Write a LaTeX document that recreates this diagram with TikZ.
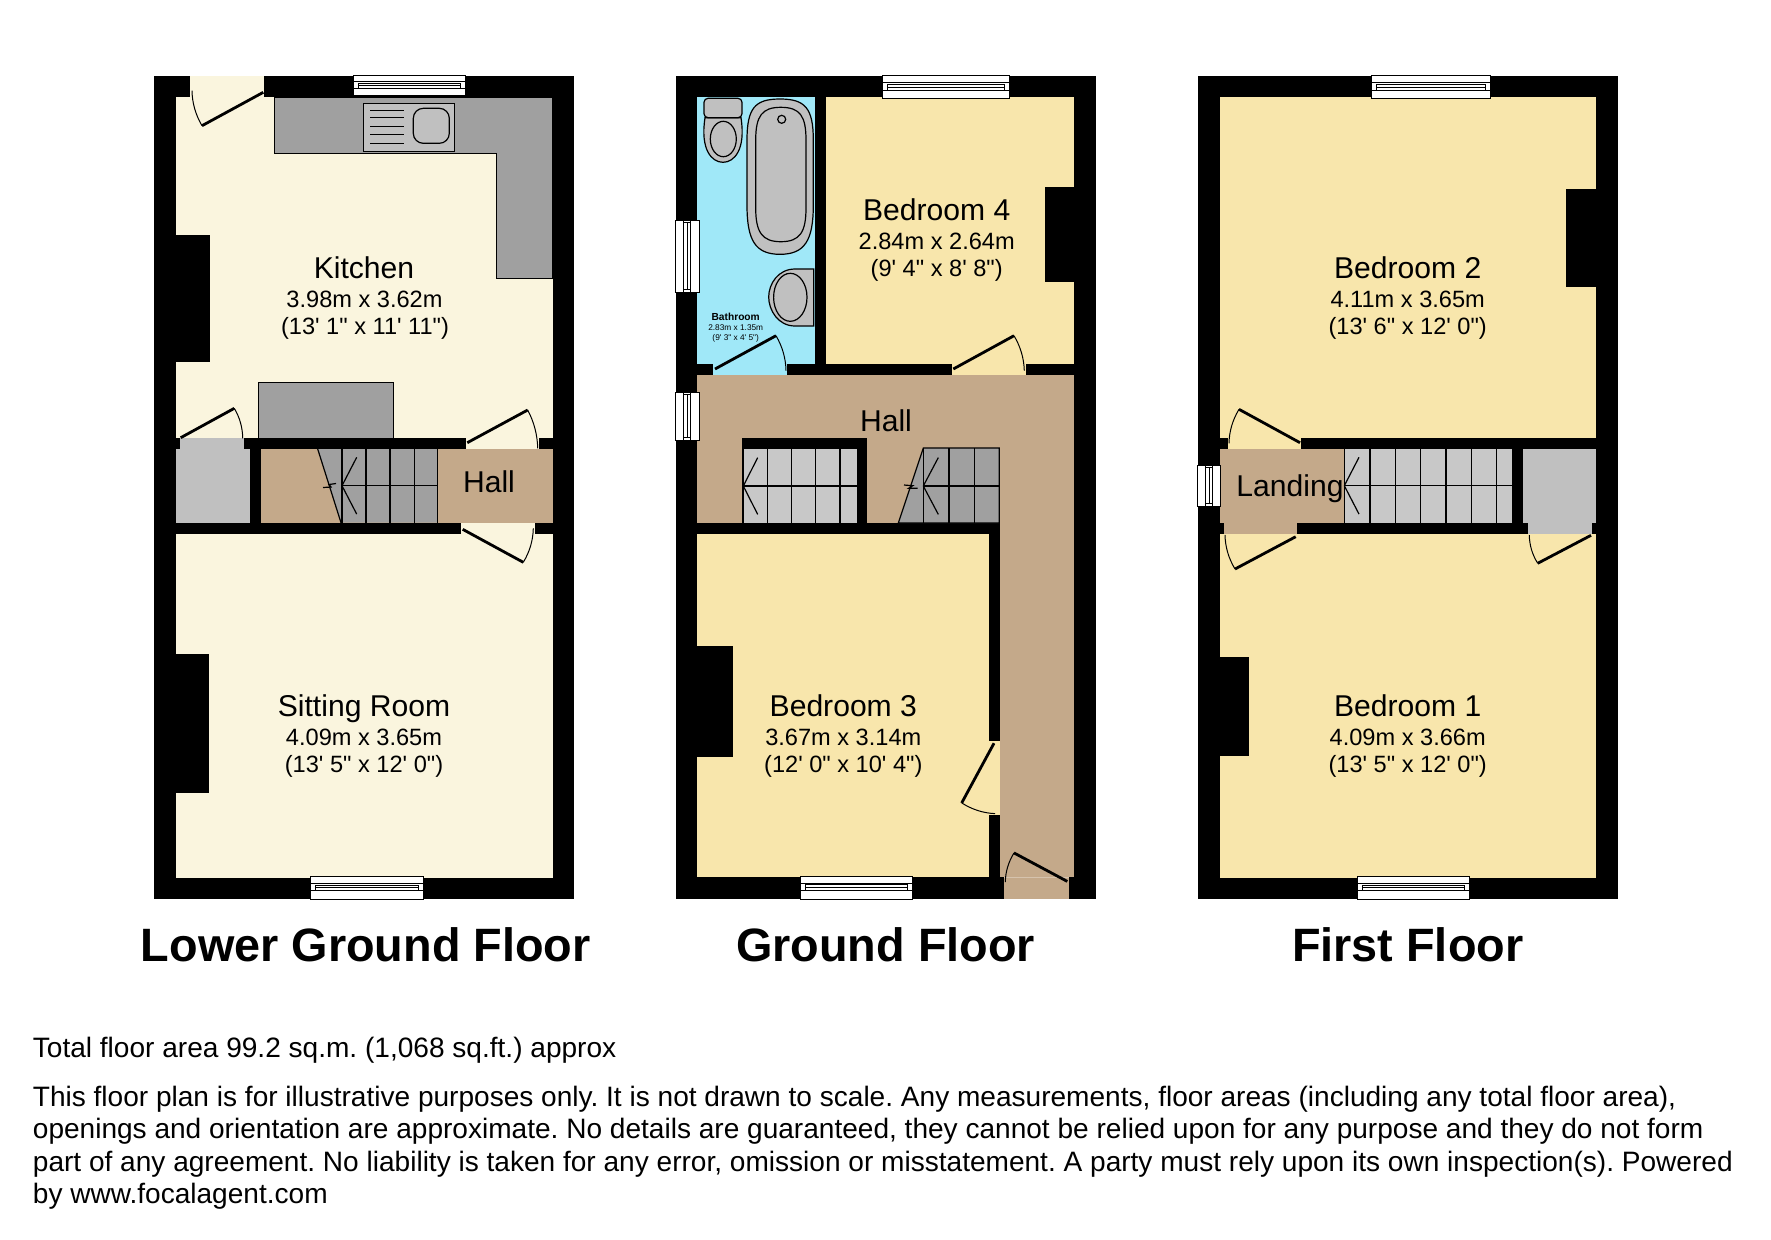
\documentclass[tikz,border=0pt]{standalone}
\usepackage{fontspec}
\usetikzlibrary{calc}
\newfontfamily\lib{Liberation Sans}
\frenchspacing
\definecolor{lgroom}{RGB}{250,245,222}
\definecolor{bedroom}{RGB}{248,230,172}
\definecolor{tan}{RGB}{196,169,138}
\definecolor{darkgrey}{RGB}{160,160,160}
\definecolor{midgrey}{RGB}{192,192,192}
\definecolor{lightgrey}{RGB}{200,200,200}
\definecolor{water}{RGB}{160,232,248}
\tikzset{
  wall/.style={fill=black,draw=none},
  roomname/.style={anchor=base,inner sep=0pt,font=\lib\fontsize{15.05}{16}\selectfont},
  roomdim/.style={anchor=base,inner sep=0pt,font=\lib\fontsize{11.8}{13}\selectfont},
  tinyname/.style={anchor=base,inner sep=0pt,font=\lib\bfseries\fontsize{5.1}{6}\selectfont},
  tinydim/.style={anchor=base,inner sep=0pt,font=\lib\fontsize{4.15}{5}\selectfont},
  floortitle/.style={anchor=base,inner sep=0pt,font=\lib\bfseries\fontsize{23.4}{26}\selectfont},
  footnote/.style={anchor=base west,inner sep=0pt,font=\lib\frenchspacing\fontsize{14.03}{16}\selectfont},
  leaf/.style={draw=black,line width=1.4pt},
  swing/.style={draw=black,line width=0.5pt},
  tread/.style={draw=black,line width=0.6pt},
  fixture/.style={draw=black,line width=0.6pt,fill=midgrey},
  winline/.style={draw=black,line width=0.4pt},
}
\newcommand{\doorswing}[3]{%
  \draw[leaf] (#1) -- (#2);
  \coordinate (dp) at ($(#1)!1.07!($(#2)!.5!(#3)$)$);
  \draw[swing] (#2) .. controls ($(#2)!.667!(dp)$) and ($(#3)!.667!(dp)$) .. (#3);}
\newcommand{\hwin}[4]{% x1 y1 x2 y2: wall-parallel horizontal window
  \draw[winline,fill=white] (#1,#2) rectangle (#3,#4);
  \draw[winline] (#1,{#2+0.3*(#4-#2)}) -- (#3,{#2+0.3*(#4-#2)});
  \draw[winline] (#1,{#2+0.63*(#4-#2)}) -- (#3,{#2+0.63*(#4-#2)});
  \draw[winline] ({#1+5},{#2+0.37*(#4-#2)}) rectangle ({#3-5},{#2+0.63*(#4-#2)});
  \draw[winline] ({#1+5},{#2+0.5*(#4-#2)}) -- ({#3-5},{#2+0.5*(#4-#2)});}
\newcommand{\vwin}[4]{% x1 y1 x2 y2: vertical window
  \draw[winline,fill=white] (#1,#2) rectangle (#3,#4);
  \draw[winline] ({#1+0.33*(#3-#1)},#2) -- ({#1+0.33*(#3-#1)},#4);
  \draw[winline] ({#1+0.65*(#3-#1)},#2) -- ({#1+0.65*(#3-#1)},#4);
  \draw[winline] ({#1+0.5*(#3-#1)},{#2+2.5}) -- ({#1+0.5*(#3-#1)},{#4-2.5});
  \draw[winline] ({#1+0.33*(#3-#1)},{#2+2.5}) -- ({#1+0.65*(#3-#1)},{#2+2.5});
  \draw[winline] ({#1+0.33*(#3-#1)},{#4-2.5}) -- ({#1+0.65*(#3-#1)},{#4-2.5});}
\newcommand{\arrowhead}[3]{% tip x, centre y, back x
  \draw[tread] (#1,#2) -- (#3,{#2-28.4});
  \draw[tread] (#1,#2) -- (#3,{#2+28.4});}
\begin{document}
\begin{tikzpicture}[x=0.5pt,y=-0.5pt]
\useasboundingbox (0,0) rectangle (1771,1239);
\fill[white] (0,0) rectangle (1771,1239);

% ================ Lower Ground Floor ================
\fill[wall] (154.3,75.7) rectangle (574.3,899);
\fill[lgroom] (175.7,97) rectangle (552.7,877.7);
% kitchen door opening
\fill[lgroom] (190.3,76) rectangle (264.3,97.5);
% worktop
\draw[fill=darkgrey,line width=0.5pt] (274.7,97) -- (552.7,97) -- (552.7,278.7) -- (496.7,278.7) -- (496.7,153) -- (274.7,153) -- cycle;
\draw[fill=midgrey,line width=0.5pt] (363.3,103.3) rectangle (454.7,151);
\draw[line width=0.6pt,rounded corners=5pt] (413.3,108.3) rectangle (449.3,143.3);
\foreach \yy in {110,117.3,126,134.7,143.3} \draw[line width=0.5pt] (370,\yy) -- (404,\yy);
% chimneys
\fill[wall] (175,234.7) rectangle (210.3,361.7);
\fill[wall] (175,654) rectangle (209.3,793.3);
% grey unit
\draw[fill=darkgrey,line width=0.5pt] (258.7,382) rectangle (393.3,438);
% cupboard + hall band
\fill[wall] (175.7,438) rectangle (552.7,534);
\fill[midgrey] (175.7,449) rectangle (249.7,522.7);
\fill[midgrey] (180,438) rectangle (244.3,449);
\fill[tan] (260.7,449) rectangle (552.7,522.7);
\fill[lgroom] (465.7,438) rectangle (539.3,449);
\fill[lgroom] (460.7,522.7) rectangle (535,534);
% stairs
\fill[darkgrey] (317.7,449) -- (437.7,449) -- (437.7,522.7) -- (341,522.7) -- cycle;
\draw[tread] (317.7,449) -- (341,522.7);
\foreach \xx in {342,366,390,414.3,437.7} \draw[tread] (\xx,449) -- (\xx,522.7);
\draw[tread] (342,485.7) -- (437.7,485.7);
\arrowhead{342}{485.7}{356.7}
\draw[tread] (323,487.5) -- (331,487) -- (329,484.5) -- (336,483.5);
% doors
\doorswing{263.3,92.3}{202,125.7}{192,90.7}
\doorswing{180.7,437.7}{234.3,408.3}{242.7,438.3}
\doorswing{467.3,442.7}{527.7,410}{537.7,448.3}
\doorswing{462.7,529.3}{523.3,562.3}{533.3,528.3}
% windows
\hwin{353.3}{75.7}{465}{95.7}
\hwin{310.7}{876.7}{423}{899}
% labels
\node[roomname] (kitchen) at (364,278) {Kitchen};
\node[roomdim] (kitchenm) at (364.5,307) {3.98m x 3.62m};
\node[roomdim] (kitchenf) at (365,334) {(13' 1" x 11' 11")};
\node[roomname] (hallL) at (489,492.7) {Hall};
\node[roomname] (sitting) at (364,716) {Sitting Room};
\node[roomdim] (sittingm) at (364,745.3) {4.09m x 3.65m};
\node[roomdim] (sittingf) at (364,772) {(13' 5" x 12' 0")};
\node[floortitle] (titleL) at (365.8,961.7) {Lower Ground Floor};

% ================ Ground Floor ================
\fill[wall] (676,75.7) rectangle (1096,899);
\fill[tan] (697.3,375) rectangle (1074.3,877);
\fill[water] (697.3,97) rectangle (815,364);
\fill[bedroom] (826,97) rectangle (1074.3,364);
\fill[bedroom] (697.3,534.3) rectangle (989.3,877);
% walls
\fill[wall] (697.3,364) rectangle (713.3,375);
\fill[wall] (787.3,364) rectangle (951.7,375);
\fill[wall] (1025.7,364) rectangle (1074.3,375);
\fill[water] (713.3,364) rectangle (787.3,375);
\fill[bedroom] (951.7,364) rectangle (1025.7,375);
\fill[wall] (1044.7,187) rectangle (1075,281.7);
\fill[wall] (697.3,522.9) rectangle (1000,534.3);
\fill[wall] (989.3,522.9) rectangle (1000,741.4);
\fill[wall] (989.3,815.4) rectangle (1000,877);
\fill[bedroom] (989.3,741.4) rectangle (1000,815.4);
\fill[wall] (697,646.4) rectangle (732.7,756.8);
\fill[wall] (1000,877) rectangle (1004.3,899);
\fill[tan] (1004.3,877) rectangle (1068.7,898.7);
\draw[tan!70!white,line width=0.4pt] (1004.3,877) -- (1068.7,877);
% left stairs
\fill[wall] (742,438.3) rectangle (867.3,523);
\fill[lightgrey] (743.3,448.7) rectangle (857,523);
\foreach \xx in {743.3,767.3,791.7,815.7,840} \draw[tread] (\xx,448.7) -- (\xx,523);
\draw[tread] (743.3,486) -- (857,486);
\arrowhead{743.3}{486}{757.7}
% right stairs
\draw[tread,fill=darkgrey] (923.3,448) -- (999.3,448) -- (999.3,523) -- (898.3,523) -- cycle;
\foreach \xx in {923.3,949,974.3} \draw[tread] (\xx,448) -- (\xx,523);
\draw[tread] (923.3,486) -- (999.3,486);
\arrowhead{923.3}{486}{938.3}
\draw[tread] (904,485) -- (912.7,485.7) -- (908.7,488.3) -- (917.7,488.3);
% bath
\draw[fixture] (780,99) .. controls (805,99) and (813.3,108) .. (813.3,140) -- (813.3,205) .. controls (813.3,240) and (805,254.3) .. (780,254.3) .. controls (755,254.3) and (747,240) .. (747,205) -- (747,140) .. controls (747,108) and (755,99) .. (780,99) -- cycle;
\draw[fixture] (780.8,107.3) .. controls (800,107.3) and (806,116) .. (806,140) -- (806,208) .. controls (806,232) and (800,241.7) .. (780.8,241.7) .. controls (762,241.7) and (755.7,232) .. (755.7,208) -- (755.7,140) .. controls (755.7,116) and (762,107.3) .. (780.8,107.3) -- cycle;
\draw[fixture] (781.7,119.3) circle[radius=4];
% toilet
\draw[fixture] (705,117.7) .. controls (700,150) and (712,162.3) .. (723,162.3) .. controls (734,162.3) and (746,150) .. (741,117.7) -- cycle;
\draw[fixture,rounded corners=2pt] (704,98.3) rectangle (742,117.7);
\draw[fixture] (723.3,139) ellipse[x radius=13,y radius=17.7];
% basin
\draw[fixture] (813.7,269) -- (813.7,326) -- (795,326) .. controls (778,326) and (768.7,310) .. (768.7,297) .. controls (768.7,284) and (778,269) .. (795,269) -- cycle;
\draw[fixture] (790.3,297.3) ellipse[x radius=16.7,y radius=24];
% doors
\doorswing{715,369}{776,335.7}{786,370.7}
\doorswing{953.3,369}{1014,335.7}{1024.3,370.7}
\doorswing{994,743.2}{961.7,802.9}{995,813.6}
\doorswing{1067.3,881.4}{1014,852.9}{1005.3,882}
% windows
\hwin{882.7}{75.7}{1009}{98.3}
\hwin{800.7}{876.4}{912.7}{899}
\vwin{675.7}{220.3}{699}{292.3}
\vwin{675.7}{392}{699}{440}
% labels
\node[tinyname] (bath) at (735.7,320) {Bathroom};
\node[tinydim] (bathm) at (735.7,330) {2.83m x 1.35m};
\node[tinydim] (bathf) at (735.7,340) {(9' 3" x 4' 5")};
\node[roomname] (bed4) at (936.7,220) {Bedroom 4};
\node[roomdim] (bed4m) at (936.7,249) {2.84m x 2.64m};
\node[roomdim] (bed4f) at (936.7,276.7) {(9' 4" x 8' 8")};
\node[roomname] (hallG) at (886,431) {Hall};
\node[roomname] (bed3) at (843.3,716) {Bedroom 3};
\node[roomdim] (bed3m) at (843.3,745) {3.67m x 3.14m};
\node[roomdim] (bed3f) at (843.3,772.5) {(12' 0" x 10' 4")};
\node[floortitle] (titleG) at (885.6,961.7) {Ground Floor};

% ================ First Floor ================
\fill[wall] (1198,75.7) rectangle (1617.7,899);
\fill[bedroom] (1219.7,97) rectangle (1596,877.7);
\fill[wall] (1566.3,188.7) rectangle (1596.5,287.3);
\fill[wall] (1219,657.3) rectangle (1249.3,756);
\fill[wall] (1219.7,438) rectangle (1596,534);
\fill[bedroom] (1227.7,438) rectangle (1301.3,449);
\fill[tan] (1219.7,449) rectangle (1344.3,522.7);
\fill[tan] (1224,522.7) rectangle (1297.3,534);
\fill[lightgrey] (1344.3,449) rectangle (1512.3,522.7);
\foreach \xx in {1344.3,1370,1395.3,1420.7,1446,1471.7,1496.7} \draw[tread] (\xx,449) -- (\xx,522.7);
\draw[tread] (1344.3,485.7) -- (1512.3,485.7);
\arrowhead{1344.3}{485.7}{1359}
\fill[midgrey] (1523.3,449) rectangle (1596,522.7);
\fill[midgrey] (1528,522.7) rectangle (1592,534);
% doors
\doorswing{1300,442.7}{1239,409.3}{1229,443.3}
\doorswing{1295.7,536.7}{1235,569}{1225,535}
\doorswing{1591,535.3}{1537.7,563.3}{1529.3,535}
% windows
\hwin{1371.7}{75.7}{1490.7}{98.3}
\hwin{1357.3}{876.7}{1469.3}{899}
\vwin{1197.7}{465}{1220.7}{506}
% labels
\node[roomname] (bed2) at (1407.7,278) {Bedroom 2};
\node[roomdim] (bed2m) at (1407.7,307) {4.11m x 3.65m};
\node[roomdim] (bed2f) at (1407.7,334) {(13' 6" x 12' 0")};
\node[roomname] (landing) at (1290,496.7) {Landing};
\node[roomname] (bed1) at (1407.7,716) {Bedroom 1};
\node[roomdim] (bed1m) at (1407.7,745.3) {4.09m x 3.66m};
\node[roomdim] (bed1f) at (1407.7,772) {(13' 5" x 12' 0")};
\node[floortitle] (titleF) at (1407.7,961.7) {First Floor};

% ================ Footer ================
\node[footnote] (area) at (32.5,1057.5) {Total floor area 99.2 sq.m. (1,068 sq.ft.) approx};
\node[footnote] (l1) at (32.5,1106) {This floor plan is for illustrative purposes only. It is not drawn to scale. Any measurements, floor areas (including any total floor area),};
\node[footnote] (l2) at (32.5,1138.5) {openings and orientation are approximate. No details are guaranteed, they cannot be relied upon for any purpose and they do not form};
\node[footnote] (l3) at (32.5,1171) {part of any agreement. No liability is taken for any error, omission or misstatement. A party must rely upon its own inspection(s). Powered};
\node[footnote] (l4) at (32.5,1203) {by www.focalagent.com};
\end{tikzpicture}
\end{document}
